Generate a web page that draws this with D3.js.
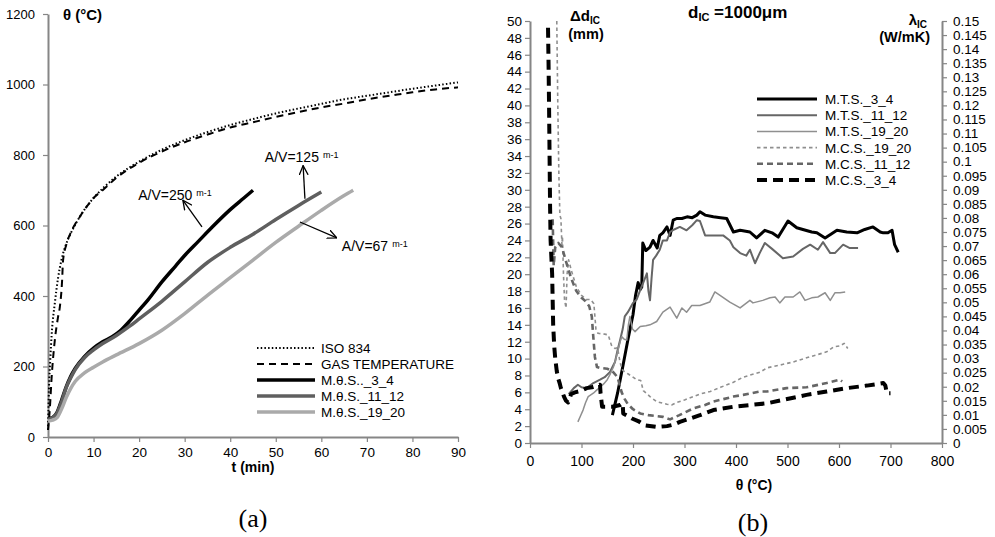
<!DOCTYPE html>
<html><head><meta charset="utf-8">
<script src="https://cdn.jsdelivr.net/npm/d3@7"></script>
<style>
html,body{margin:0;padding:0;background:#fff;}
text{font-family:"Liberation Sans",Arial,sans-serif;}
</style></head>
<body><svg id="c" width="995" height="537"></svg>
<script>
// ---------- Panel (a) data: [t (min), θ (°C)] ----------
const iso834 = [[0,20],[0.2,133],[0.5,220],[0.8,290],[1.5,380],[2.2,450],[3,505],[4,548],[5,578],[6,603],[8,645],[10,678],[12,705],[15,739],[20,781],[25,815],[30,842],[35,865],[40,885],[45,902],[50,918],[55,932],[60,945],[65,958],[70,968],[75,978],[80,988],[85,997],[90,1006]];
const gasTemp = [[0,20],[0.4,80],[0.8,170],[1.5,275],[2.2,340],[2.6,369],[3.1,445],[3.3,500],[4,545],[5,580],[6,605],[7,625],[8,645],[9,662],[10,678],[12,700],[15,735],[20,778],[25,810],[30,836],[35,858],[40,878],[45,893],[50,908],[55,922],[60,935],[65,946],[70,958],[75,968],[80,978],[85,986],[90,992]];
const mts34a = [[0,52],[1,55],[2,70],[3,105],[4,142],[5,172],[6,195],[8,228],[10,252],[12,270],[14,284],[16,303],[18,330],[20,360],[22,390],[25,440],[28,485],[30,515],[33,555],[36,595],[40,645],[43,678],[45,700]];
const mts1112a = [[0,50],[1,55],[2,68],[3,100],[4,140],[5,168],[6,192],[8,225],[10,247],[12,265],[15,288],[18,315],[20,335],[25,385],[30,440],[35,495],[40,538],[45,575],[50,617],[55,657],[60,695]];
const mts1920a = [[0,45],[1,48],[2,55],[3,80],[4,112],[5,138],[6,158],[8,182],[10,198],[12,213],[15,233],[20,265],[25,303],[30,350],[35,402],[40,452],[45,502],[50,552],[55,598],[60,643],[65,685],[67,700]];
const xTicksA = [0,10,20,30,40,50,60,70,80,90];
const yTicksA = [0,200,400,600,800,1000,1200];
const legendA = ["ISO 834","GAS TEMPERATURE","M.θ.S.._3_4","M.θ.S._11_12","M.θ.S._19_20"];
// annotations: [label, textT, textV, arrowFromT, arrowFromV, arrowToT, arrowToV]
const annotA = [["A/V=250",19.8,673,33.8,596,29.6,672],["A/V=125",47.6,779,56.4,676,56,770],["A/V=67",64.5,527,55.3,610,63.4,565]];

// ---------- Panel (b) data: [θ (°C), Δd (mm)] ----------
const mts34 = [[160,3.3],[170,5.9],[180,9],[190,12.2],[200,15.2],[205,17.5],[210,19],[214,18.2],[217,18.5],[219,23.7],[225,22.8],[233,23.2],[239,24],[247,23.1],[252,24.6],[258,24.9],[266,25.6],[272,24.6],[278,26.4],[285,26.6],[295,26.6],[305,26.8],[315,26.7],[324,27],[330,27.4],[340,27],[356,26.8],[370,26.7],[382,26.6],[395,25],[408,25.2],[427,25],[440,24.3],[456,25.2],[470,24.9],[482,24.4],[501,26.3],[518,25.5],[535,25.2],[547,25],[557,24.9],[573,24.3],[596,25.2],[615,25],[635,24.9],[650,25.3],[666,25.6],[680,25],[686,24.9],[695,24.9],[703,25.2],[708,23.5],[715,22.6]];
const mts1112 = [[75,5.8],[85,6.5],[93,6.9],[100,6.6],[110,6.5],[123,7.1],[136,7.5],[145,7.8],[155,8.4],[165,9.6],[170,11],[175,12.2],[180,13.5],[184,15],[190,15.5],[200,16.6],[207,17],[214,18.1],[220,19],[227,20.1],[230,18],[233,16.9],[236,19.5],[239,21.7],[245,22.2],[252,22.9],[258,24],[266,24],[272,25],[280,25.3],[291,25.6],[304,25.2],[315,25.8],[324,26.4],[330,26.3],[340,24.6],[360,24.6],[375,24.6],[388,24],[395,23.2],[408,22.5],[420,22.2],[427,22.9],[437,21.3],[446,22.5],[456,23.7],[470,23],[491,21.9],[511,22.1],[530,23],[544,23.5],[559,22.9],[569,23.8],[583,22.5],[592,22.5],[608,23.5],[621,23.1],[637,23.1]];
const mts1920 = [[93,2.5],[98,3.2],[103,3.9],[108,4.8],[113,5.5],[123,5.9],[130,6.3],[136,6.6],[143,7],[150,7.5],[156,8.2],[162,9],[166,9.8],[171,11],[175,12],[178,12.6],[183,12.3],[188,12.2],[191,14],[194,15],[199,13.5],[204,13.2],[214,13.8],[225,13.9],[233,14],[246,14.4],[258,15.5],[265,15.8],[272,16.1],[285,14.8],[295,16],[304,15.5],[314,16.3],[330,16.3],[349,16.7],[359,17.9],[369,17.5],[388,16.7],[408,16],[427,16.9],[433,16.6],[452,16.9],[466,17.2],[476,17.3],[485,16.6],[495,17.3],[511,17.3],[524,17.9],[534,16.9],[547,17.2],[559,17.3],[573,17.8],[583,16.9],[592,17.8],[602,17.8],[612,17.9]];
const mcs1920 = [[52,50],[54,40],[56,32],[58,27],[60,26.6],[62,23.5],[63,24.5],[65,20],[67,17],[70,16],[72,20],[75,21.7],[80,20.5],[85,19.5],[90,18.5],[100,17.5],[110,17],[118,17],[124,16.5],[128,13.5],[132,13],[145,12.9],[152,12.8],[158,11.6],[165,11.2],[170,11.3],[175,9.5],[180,8.6],[190,8.2],[200,7.8],[207,7.5],[215,7.4],[220,6.2],[233,5.5],[246,4.9],[266,4.6],[275,4.5],[285,4.8],[300,5.1],[330,5.8],[350,6.1],[370,6.6],[395,7.2],[414,7.8],[447,8.4],[460,8.9],[490,9.3],[511,9.6],[537,10.1],[560,10.5],[576,10.8],[590,11.4],[602,11.5],[610,11.8],[617,11.2]];
const mcs1112 = [[44,26.5],[46,21],[49,23.2],[55,23.7],[62,23.2],[70,21.5],[80,19.5],[90,18],[100,17.2],[108,16.8],[115,16.2],[120,15],[123,12.5],[126,10.2],[130,9],[136,8.9],[150,8.8],[160,8.5],[170,7.8],[178,6],[184,5.2],[190,4.6],[200,4],[214,3.5],[230,3.3],[258,3.1],[272,2.8],[290,3.3],[317,4.1],[340,4.5],[356,4.9],[395,5.5],[414,5.7],[447,6.1],[460,6.1],[498,6.5],[537,6.6],[576,7.1],[602,7.5],[606,7.3]];
const mcs34 = [[35,49.2],[36,45],[37,40],[38,34],[39,28],[40,24],[43,20],[45,14],[47,11.5],[49,10],[52,8.5],[55,7.6],[58,7],[60,6.5],[63,6],[66,5.5],[70,5],[74,4.8],[77,5.3],[80,5.8],[87,6],[100,6.2],[110,6.5],[120,6.6],[130,6.8],[136,6.9],[137,5.9],[140,4.3],[155,4.3],[160,4.3],[175,4.5],[180,4.7],[181,3.5],[190,3.2],[198,2.9],[210,2.6],[223,2.1],[246,1.9],[266,2],[280,2.2],[291,2.5],[311,2.9],[330,3.3],[356,3.9],[395,4.3],[427,4.5],[460,4.7],[491,5.1],[537,5.7],[576,6.1],[615,6.5],[654,6.8],[686,7.1],[690,6.8],[693,5.9],[700,5.9]];
const xTicksB = [0,100,200,300,400,500,600,700,800];
const yTicksB = d3.range(0,51,2);
const yTicksR = d3.range(0,31).map(i=>+(i*0.005).toFixed(3));
const legendB = ["M.T.S._3_4","M.T.S._11_12","M.T.S._19_20","M.C.S._19_20","M.C.S._11_12","M.C.S._3_4"];

const svg = d3.select("#c");
svg.append("rect").attr("width",995).attr("height",537).attr("fill","#fff");
const AX = "#868686";

svg.append("defs").append("marker").attr("id","arr").attr("viewBox","0 0 10 10")
  .attr("refX",9.5).attr("refY",5).attr("markerWidth",10).attr("markerHeight",10)
  .attr("markerUnits","userSpaceOnUse").attr("orient","auto")
  .append("path").attr("d","M0,0.5 L9.5,5 L0,9.5").attr("fill","none").attr("stroke","#000").attr("stroke-width",1.3);

function styleAxis(g, fs){
  g.attr("font-family","Liberation Sans, Arial, sans-serif");
  g.select(".domain").attr("stroke",AX).attr("stroke-width",2);
  g.selectAll(".tick line").attr("stroke",AX).attr("stroke-width",1.2);
  g.selectAll(".tick text").attr("fill","#000").attr("font-size",fs);
}

// ================= Panel (a) =================
const xA = d3.scaleLinear().domain([0,90]).range([48,458]);
const yA = d3.scaleLinear().domain([0,1200]).range([437,14]);
const gyA = svg.append("g").attr("transform","translate(48,0)")
  .call(d3.axisLeft(yA).tickValues(yTicksA).tickFormat(d=>String(d)).tickSize(5).tickSizeOuter(0).tickPadding(8));
styleAxis(gyA,13);
const gxA = svg.append("g").attr("transform","translate(0,437)")
  .call(d3.axisBottom(xA).tickValues(xTicksA).tickFormat(d=>String(d)).tickSize(5).tickSizeOuter(0).tickPadding(5));
styleAxis(gxA,13.5);

svg.append("text").attr("x",63).attr("y",20).attr("font-size",15).attr("font-weight","bold").text("θ (°C)");
svg.append("text").attr("x",253).attr("y",472).attr("text-anchor","middle").attr("font-size",14).attr("font-weight","bold").text("t (min)");
svg.append("text").attr("x",253).attr("y",527).attr("text-anchor","middle").attr("font-size",26)
  .style("font-family","Liberation Serif, Times New Roman, serif").text("(a)");

const lineA = d3.line().x(d=>xA(d[0])).y(d=>yA(d[1])).curve(d3.curveMonotoneX);
const seriesA = [
  {d:iso834, c:"#000", w:2, dash:"1.5,2.2"},
  {d:gasTemp, c:"#000", w:2, dash:"7,5"},
  {d:mts34a, c:"#000", w:3.5, dash:null},
  {d:mts1112a, c:"#5f5f5f", w:3.5, dash:null},
  {d:mts1920a, c:"#aaaaaa", w:3.5, dash:null}
];
seriesA.forEach(s=>{
  svg.append("path").attr("d",lineA(s.d)).attr("fill","none").attr("stroke",s.c)
    .attr("stroke-width",s.w).attr("stroke-dasharray",s.dash);
});

annotA.forEach(a=>{
  const t = svg.append("text").attr("x",xA(a[1])).attr("y",yA(a[2])).attr("font-size",14).text(a[0]);
  t.append("tspan").attr("dx",4).attr("dy",-4).attr("font-size",9).text("m-1");
  svg.append("line").attr("x1",xA(a[3])).attr("y1",yA(a[4])).attr("x2",xA(a[5])).attr("y2",yA(a[6]))
    .attr("stroke","#000").attr("stroke-width",1.3).attr("marker-end","url(#arr)");
});

const legAy = d3.scaleBand().domain(legendA).range([340,420]);
legendA.forEach((name,i)=>{
  const s = seriesA[i], y = legAy(name)+legAy.bandwidth()/2;
  svg.append("line").attr("x1",257).attr("x2",315).attr("y1",y).attr("y2",y)
    .attr("stroke",s.c).attr("stroke-width",s.w).attr("stroke-dasharray",s.dash);
  svg.append("text").attr("x",321).attr("y",y+5).attr("font-size",13.5).text(name);
});

// ================= Panel (b) =================
const xB = d3.scaleLinear().domain([0,800]).range([530,942]);
const yB = d3.scaleLinear().domain([0,50]).range([443,21]);
const yR = d3.scaleLinear().domain([0,0.15]).range([443,21]);
const gyB = svg.append("g").attr("transform","translate(530,0)")
  .call(d3.axisLeft(yB).tickValues(yTicksB).tickSize(5).tickSizeOuter(0).tickPadding(3));
styleAxis(gyB,13.5);
const gyR = svg.append("g").attr("transform","translate(942,0)")
  .call(d3.axisRight(yR).tickValues(yTicksR).tickFormat(d=>String(d)).tickSize(5).tickSizeOuter(0).tickPadding(6));
styleAxis(gyR,13.5);
const gxB = svg.append("g").attr("transform","translate(0,443)")
  .call(d3.axisBottom(xB).tickValues(xTicksB).tickSize(5).tickSizeOuter(0).tickPadding(8));
styleAxis(gxB,14);

// titles
const tt = svg.append("text").attr("x",688).attr("y",18).attr("font-size",17).attr("font-weight","bold");
tt.append("tspan").text("d");
tt.append("tspan").attr("dy",3).attr("font-size",11).text("IC");
tt.append("tspan").attr("dy",-3).text(" =1000μm");
const tl = svg.append("text").attr("x",570).attr("y",21).attr("font-size",15).attr("font-weight","bold");
tl.append("tspan").text("Δd");
tl.append("tspan").attr("dy",3).attr("font-size",10).text("IC");
svg.append("text").attr("x",586).attr("y",39).attr("text-anchor","middle").attr("font-size",14.5).attr("font-weight","bold").text("(mm)");
const tr = svg.append("text").attr("x",927).attr("y",25).attr("text-anchor","end").attr("font-size",15).attr("font-weight","bold");
tr.append("tspan").text("λ");
tr.append("tspan").attr("dy",3).attr("font-size",10).text("IC");
svg.append("text").attr("x",930).attr("y",42).attr("text-anchor","end").attr("font-size",14.5).attr("font-weight","bold").text("(W/mK)");
svg.append("text").attr("x",754).attr("y",490).attr("text-anchor","middle").attr("font-size",14).attr("font-weight","bold").text("θ (°C)");
svg.append("text").attr("x",753).attr("y",531).attr("text-anchor","middle").attr("font-size",26)
  .style("font-family","Liberation Serif, Times New Roman, serif").text("(b)");

const lineB = d3.line().x(d=>xB(d[0])).y(d=>yB(d[1]));
const seriesB = [
  {d:mts34, c:"#000", w:3, dash:null},
  {d:mts1112, c:"#666", w:2, dash:null},
  {d:mts1920, c:"#8f8f8f", w:1.5, dash:null},
  {d:mcs1920, c:"#8f8f8f", w:1.6, dash:"3.5,3"},
  {d:mcs1112, c:"#666", w:2.6, dash:"6,4"},
  {d:mcs34, c:"#000", w:4, dash:"10,6"}
];
seriesB.forEach(s=>{
  svg.append("path").attr("d",lineB(s.d)).attr("fill","none").attr("stroke",s.c)
    .attr("stroke-width",s.w).attr("stroke-dasharray",s.dash).attr("stroke-linejoin","round");
});

const legBy = d3.scaleBand().domain(legendB).range([91,188]);
legendB.forEach((name,i)=>{
  const s = seriesB[i], y = legBy(name)+legBy.bandwidth()/2;
  svg.append("line").attr("x1",757).attr("x2",817).attr("y1",y).attr("y2",y)
    .attr("stroke",s.c).attr("stroke-width",s.w).attr("stroke-dasharray",s.dash);
  svg.append("text").attr("x",825).attr("y",y+5).attr("font-size",13.5).text(name);
});
</script></body></html>
